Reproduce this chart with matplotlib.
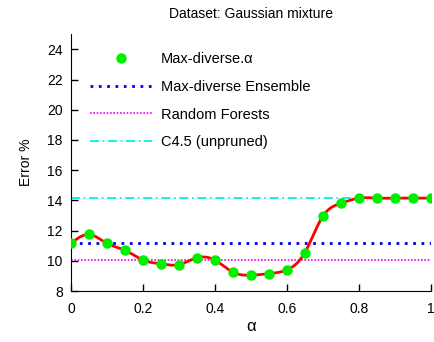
import numpy as np
import matplotlib
matplotlib.use("Agg")
import matplotlib.pyplot as plt

# dane
alpha = [0.0, 0.05, 0.1, 0.15, 0.2, 0.25, 0.3, 0.35, 0.4, 0.45, 0.5,
         0.55, 0.6, 0.65, 0.7, 0.75, 0.8, 0.85, 0.9, 0.95, 1.0]
err_alpha = [11.15, 11.75, 11.15, 10.7, 10.05, 9.8, 9.75, 10.2, 10.05, 9.25, 9.05,
             9.15, 9.4, 10.55, 12.95, 13.8, 14.15, 14.15, 14.15, 14.15, 14.15]
err_ensemble = 11.15
err_rf = 10.05
err_c45 = 14.15


def natural_spline(x, y, n=400):
    # naturalny splajn kubiczny (jak "smooth csplines" w gnuplocie)
    x = np.asarray(x, float)
    y = np.asarray(y, float)
    k = len(x)
    h = np.diff(x)
    A = np.zeros((k, k))
    r = np.zeros(k)
    A[0, 0] = A[-1, -1] = 1
    for i in range(1, k - 1):
        A[i, i - 1] = h[i - 1]
        A[i, i] = 2 * (h[i - 1] + h[i])
        A[i, i + 1] = h[i]
        r[i] = 6 * ((y[i + 1] - y[i]) / h[i] - (y[i] - y[i - 1]) / h[i - 1])
    M = np.linalg.solve(A, r)
    xs = np.linspace(x[0], x[-1], n)
    idx = np.clip(np.searchsorted(x, xs) - 1, 0, k - 2)
    x0, x1 = x[idx], x[idx + 1]
    hh = x1 - x0
    a = (x1 - xs) / hh
    b = (xs - x0) / hh
    ys = a * y[idx] + b * y[idx + 1] + ((a**3 - a) * M[idx] + (b**3 - b) * M[idx + 1]) * hh**2 / 6
    return xs, ys


plt.rcParams['font.family'] = ['Liberation Sans', 'DejaVu Sans']
plt.rcParams['font.size'] = 10

fig = plt.figure(figsize=(4.34, 3.42), dpi=100)
ax = fig.add_axes([0.1636, 0.149, 0.829, 0.751])

xs, ys = natural_spline(alpha, err_alpha)
ax.plot(xs, ys, color='red', lw=2, zorder=3)
ax.plot(alpha, err_alpha, 'o', color='#00ee00', ms=6.5, mec='#00ee00',
        label='Max-diverse.α', zorder=4)
ax.axhline(err_ensemble, color='#0000ee', ls=(0, (1, 2)), lw=2, label='Max-diverse Ensemble', zorder=2)
ax.axhline(err_rf, color='#ee00ee', ls=(0, (1, 1)), lw=1.2, label='Random Forests', zorder=2)
ax.axhline(err_c45, color='#00eeee', ls=(0, (5, 2, 1, 2)), lw=1.3, label='C4.5 (unpruned)', zorder=2)

ax.set_xlim(0, 1)
ax.set_ylim(8, 25)
ax.set_xticks([0, 0.2, 0.4, 0.6, 0.8, 1])
ax.set_xticklabels(['0', '0.2', '0.4', '0.6', '0.8', '1'])
ax.set_yticks(range(8, 25, 2))
ax.tick_params(direction='in', length=5, width=1)
ax.tick_params(axis='x', pad=8)
ax.tick_params(axis='y', pad=6)
ax.spines['top'].set_visible(False)
ax.spines['right'].set_visible(False)

ax.set_title('Dataset: Gaussian mixture', fontsize=10, pad=12)
ax.set_xlabel('α', fontsize=12, labelpad=2)
ax.set_ylabel('Error %', labelpad=10)

handles, labels = ax.get_legend_handles_labels()
ax.legend(handles, labels, loc='upper left', bbox_to_anchor=(0.015, 0.98), frameon=False,
          numpoints=1, handlelength=4.3, labelspacing=0.93, handletextpad=0.6, fontsize=10.5)

fig.savefig('out.png', dpi=100)
